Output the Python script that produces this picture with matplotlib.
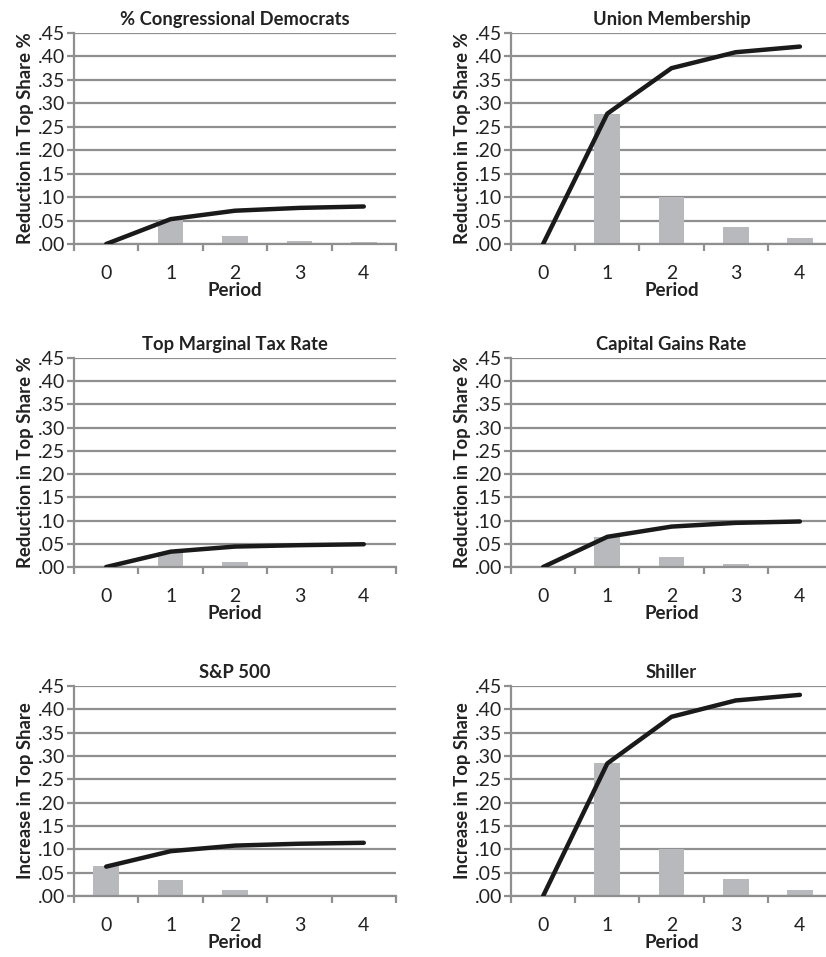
import matplotlib
matplotlib.use("Agg")
import matplotlib.pyplot as plt

plt.rcParams['font.family'] = ['Lato', 'DejaVu Sans']

periods = [0, 1, 2, 3, 4]

titles = ['% Congressional Democrats', 'Union Membership',
          'Top Marginal Tax Rate', 'Capital Gains Rate',
          'S&P 500', 'Shiller']
ylabels = ['Reduction in Top Share %', 'Reduction in Top Share %',
           'Reduction in Top Share %', 'Reduction in Top Share %',
           'Increase in Top Share', 'Increase in Top Share']

# bars = per-period effect, line = cumulative effect
dem_bars = [0.0, 0.053, 0.018, 0.007, 0.004]
dem_line = [0.0, 0.053, 0.071, 0.077, 0.080]
union_bars = [0.0, 0.277, 0.100, 0.036, 0.013]
union_line = [0.0, 0.278, 0.375, 0.409, 0.421]
tax_bars = [0.0, 0.032, 0.011, 0.002, 0.002]
tax_line = [0.0, 0.033, 0.044, 0.047, 0.049]
capg_bars = [0.0, 0.064, 0.022, 0.007, 0.002]
capg_line = [0.0, 0.065, 0.087, 0.095, 0.098]
sp_bars = [0.064, 0.034, 0.012, 0.002, 0.002]
sp_line = [0.063, 0.096, 0.108, 0.112, 0.114]
shiller_bars = [0.0, 0.284, 0.100, 0.036, 0.012]
shiller_line = [0.0, 0.284, 0.384, 0.419, 0.431]

bars = [dem_bars, union_bars, tax_bars, capg_bars, sp_bars, shiller_bars]
lines = [dem_line, union_line, tax_line, capg_line, sp_line, shiller_line]
yticks = [0.0, 0.05, 0.10, 0.15, 0.20, 0.25, 0.30, 0.35, 0.40, 0.45]

W, H = 826, 957
fig = plt.figure(figsize=(W / 100, H / 100), dpi=100)

# axes boxes in pixels: (left, right, top, bottom)
cols = [(74, 396), (511, 832)]
rows = [(33, 244), (358, 567), (686, 896)]

grid_c = '#8f8f8f'
txt_c = '#222222'
for i in range(6):
    l, r = cols[i % 2]
    t, b = rows[i // 2]
    ax = fig.add_axes([l / W, 1 - b / H, (r - l) / W, (b - t) / H])
    ax.set_xlim(-0.5, 4.5)
    ax.set_ylim(0, 0.45)
    ax.set_yticks(yticks)
    ax.set_yticklabels([f'{v:.2f}'[1:] for v in yticks])
    ax.yaxis.grid(True, color=grid_c, linewidth=1.6)
    ax.set_axisbelow(True)
    ax.bar(periods, bars[i], width=0.4, color='#b8b9bc', zorder=2)
    ax.plot(periods, lines[i], color='#1a1a1a', linewidth=3.2,
            solid_capstyle='round', zorder=3)
    ax.set_xticks(periods)
    ax.set_xticks([p - 0.5 for p in periods] + [4.5], minor=True)
    ax.tick_params(axis='x', which='major', length=0, pad=15, labelsize=14,
                   colors=txt_c)
    ax.tick_params(axis='x', which='minor', length=5, width=1.6, color=grid_c)
    ax.tick_params(axis='y', length=5, width=1.6, color=grid_c, pad=1,
                   labelsize=14, labelcolor=txt_c)
    for s in ['top', 'right']:
        ax.spines[s].set_visible(False)
    for s in ['left', 'bottom']:
        ax.spines[s].set_color(grid_c)
        ax.spines[s].set_linewidth(1.6)
    ax.set_title(titles[i], fontsize=13.2, fontweight='bold', pad=6,
                 color=txt_c)
    ax.set_xlabel('Period', fontsize=13.5, fontweight='bold', labelpad=0,
                  color=txt_c)
    ax.set_ylabel(ylabels[i], fontsize=13.3, fontweight='bold', labelpad=3,
                  color=txt_c)

fig.savefig('out.png', dpi=100)
